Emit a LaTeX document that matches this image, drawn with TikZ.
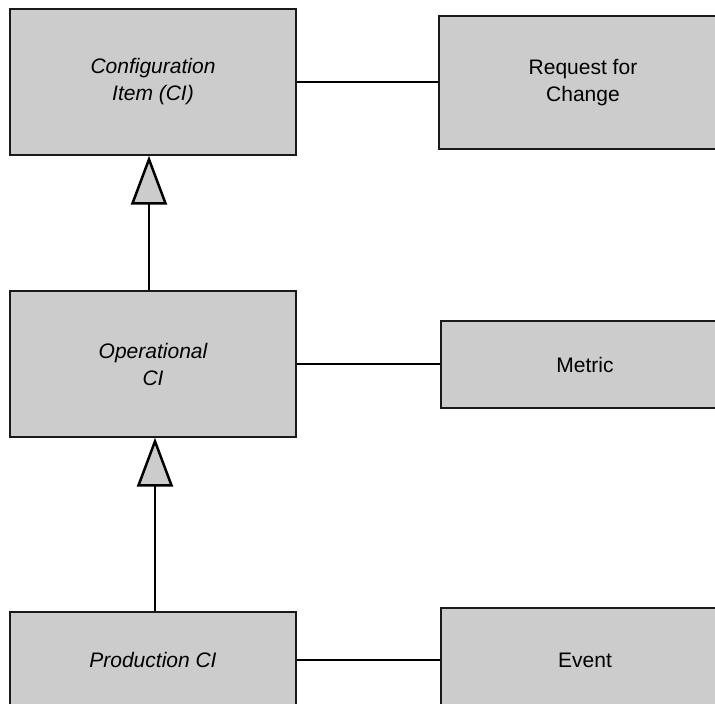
\documentclass[tikz,border=0pt]{standalone}
\usepackage{fontspec}
\setmainfont{Liberation Sans}
\usetikzlibrary{arrows.meta}
\definecolor{boxgray}{HTML}{CCCCCC}
\definecolor{edge}{HTML}{1A1A1A}
\begin{document}
\begin{tikzpicture}[x=1pt,y=-1pt,
  box/.style={draw=edge, line width=1.4pt, fill=boxgray, minimum width=286pt,
    inner sep=0pt, align=center, font=\fontsize{21}{27}\selectfont},
  abstract/.style={box, font=\fontsize{21}{27}\selectfont\itshape},
  conn/.style={line width=1.5pt, draw=black},
  inh/.style={line width=2.5pt, draw=black,
    -{Triangle[width=36pt,length=49pt,fill=boxgray]}}]
\clip (0,0) rectangle (715,704);
\fill[white] (0,0) rectangle (715,704);
\node[abstract, minimum height=146pt] (ci) at (153,82) {Configuration\\Item (CI)};
\node[box, minimum height=133pt, minimum width=288pt] (rfc) at (583,82.5) {Request for\\Change};
\node[abstract, minimum height=146pt] (op) at (153,364) {Operational\\CI};
\node[box, minimum height=87pt, minimum width=288pt] (metric) at (585,364.5) {Metric};
\node[abstract, minimum height=96pt] (prod) at (153,660) {Production CI};
\node[box, minimum height=104pt, minimum width=288pt] (event) at (585,660) {Event};
\draw[conn] (ci.east) -- (ci.east -| rfc.west);
\draw[conn] (op.east) -- (op.east -| metric.west);
\draw[conn] (prod.east) -- (event.west);
\draw[inh] ([xshift=-4pt]op.north) -- ([xshift=-4pt]ci.south);
\draw[inh] ([xshift=2pt]prod.north) -- ([xshift=2pt]op.south);
\end{tikzpicture}
\end{document}
